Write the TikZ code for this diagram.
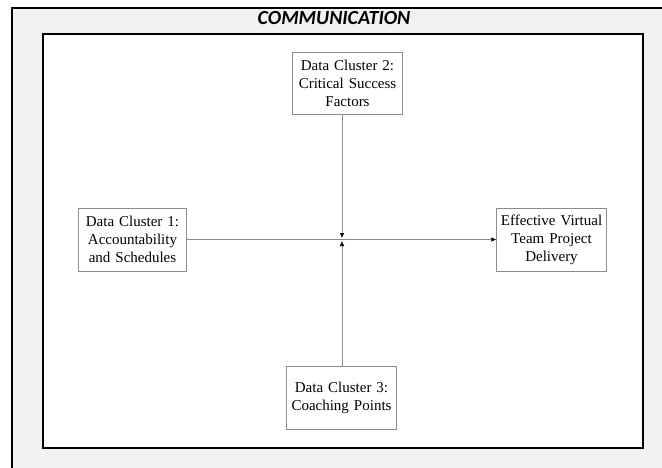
\documentclass[tikz,border=0pt]{standalone}
\usepackage{fontspec}
\setmainfont{Liberation Serif}
\newfontfamily\titlefont{Carlito}
\usetikzlibrary{arrows.meta}

\tikzset{
  cluster/.style={draw=black!45, fill=white, text width=#1, align=center,
                  inner sep=2pt, font=\fontsize{15}{18}\selectfont},
  link/.style={draw=black!45, line width=0.6pt,
               -{Latex[black,length=5pt,width=4.5pt]}}
}

\begin{document}
\begin{tikzpicture}[x=1pt,y=-1pt]
  \useasboundingbox (0,0) rectangle (662,467);
  % frames
  \begin{scope}
    \clip (0,0) rectangle (662,467);
    \draw[fill=black!5, line width=1.5pt] (12,8) rectangle (680,490);
  \end{scope}
  \draw[fill=white, line width=2pt] (43,34) rectangle (643,448);
  \node[font=\titlefont\bfseries\itshape\fontsize{20}{22}\selectfont] (title) at (334,18) {COMMUNICATION};

  % clusters
  \node[cluster=104pt, minimum height=63pt] (c1) at (132.5,239.5) {Data Cluster 1:\\Accountability\\and Schedules};
  \node[cluster=106pt, minimum height=62pt] (c2) at (347.5,83) {Data Cluster 2:\\Critical Success\\Factors};
  \node[cluster=106pt, minimum height=63pt] (c3) at (341.5,397.5) {Data Cluster 3:\\Coaching Points};
  \node[cluster=106pt, minimum height=63pt] (eff) at (551.5,240) {Effective Virtual\\Team Project\\Delivery};

  \coordinate (hub) at (342,239.5);
  \draw[link] (c1.east |- hub) -- (eff.west |- hub);
  \draw[link] (c2.south -| hub) -- ([yshift=1.5pt]hub);
  \draw[link] (c3.north -| hub) -- ([yshift=-1.5pt]hub);
\end{tikzpicture}
\end{document}
